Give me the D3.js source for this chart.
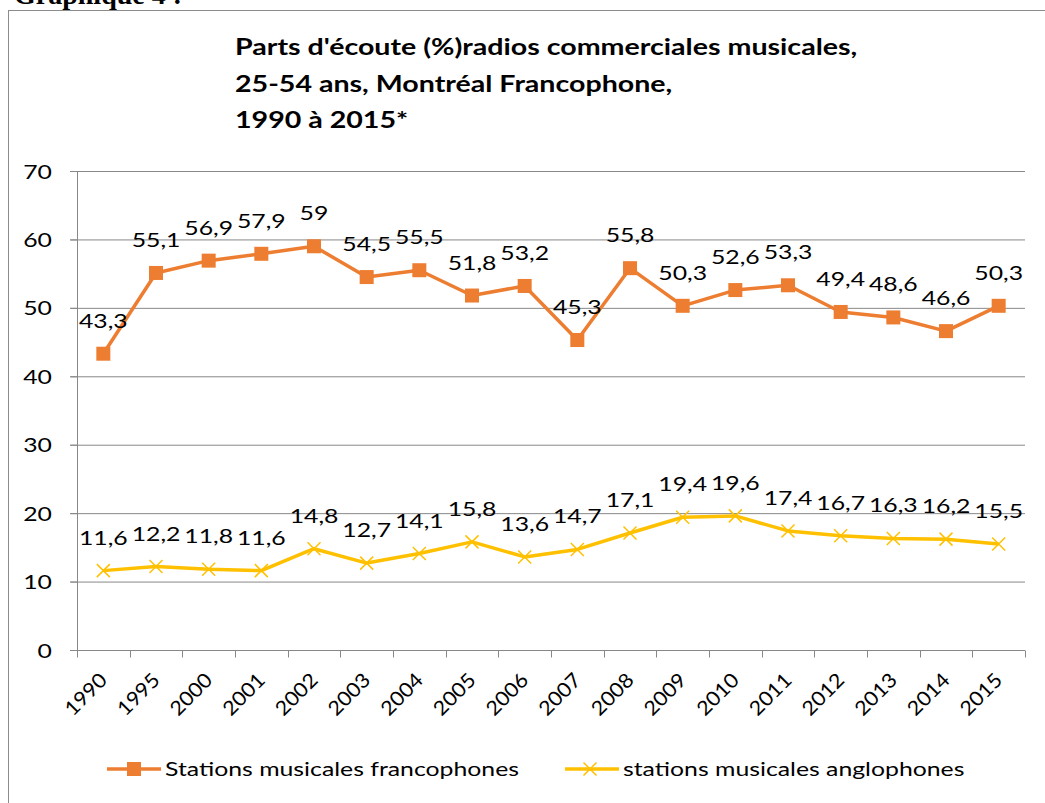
<!DOCTYPE html>
<html><head><meta charset="utf-8">
<script src="https://cdn.jsdelivr.net/npm/d3@7"></script>
<style>body{margin:0;background:#fff}svg{display:block}text{font-family:Lato,"Open Sans",sans-serif}</style>
</head><body>
<svg id="c" width="1045" height="803"></svg>
<script>
const years = ["1990","1995","2000","2001","2002","2003","2004","2005","2006","2007","2008","2009","2010","2011","2012","2013","2014","2015"];
const franco = [43.3,55.1,56.9,57.9,59,54.5,55.5,51.8,53.2,45.3,55.8,50.3,52.6,53.3,49.4,48.6,46.6,50.3];
const anglo = [11.6,12.2,11.8,11.6,14.8,12.7,14.1,15.8,13.6,14.7,17.1,19.4,19.6,17.4,16.7,16.3,16.2,15.5];
const yTicks = [0,10,20,30,40,50,60,70];
const seriesNames = ["Stations musicales francophones","stations musicales anglophones"];
const titleLines = ["Parts d'écoute (%)radios commerciales musicales,","25-54 ans, Montréal Francophone,","1990 à 2015*"];
const heading = "Graphique 4 :";

const svg = d3.select("#c");
const orange = "#ED7D31", yellow = "#FFC000", grid = "#888888";
const SX = 1.24;
const fmt = v => String(v).replace(".", ",");
const place = (x0, y0, s=SX) => `translate(${x0},${y0}) scale(${s},1)`;

// page heading and frame
svg.append("text").attr("x",14).attr("y",4).style("font-family","'Liberation Serif',serif")
  .attr("font-weight","bold").attr("font-size",28).text(heading);
svg.append("rect").attr("x",8.5).attr("y",10.5).attr("width",1050).attr("height",800)
  .attr("fill","#fff").attr("stroke","#8c8c8c").attr("stroke-width",1);

// title
svg.append("g").selectAll("text").data(titleLines).join("text")
  .attr("transform",(d,i)=>place(235, 55+i*36.5, 1.3))
  .attr("font-weight","bold").attr("font-size",22).attr("fill","#000").text(d=>d);

const x = d3.scaleBand().domain(years).range([77,1025]);
const y = d3.scaleLinear().domain([0,70]).range([650,171]);

// gridlines
svg.append("g").selectAll("line").data(yTicks.filter(t=>t>0)).join("line")
  .attr("x1",70).attr("x2",1025).attr("y1",d=>y(d)+0.5).attr("y2",d=>y(d)+0.5).attr("stroke",grid).attr("stroke-width",1);

// y axis
const ya = svg.append("g").attr("transform","translate(77.5,0)")
  .call(d3.axisLeft(y).tickValues(yTicks).tickSize(7).tickPadding(18).tickFormat(d=>d));
ya.select(".domain").attr("stroke",grid).attr("d","M0,"+y(70)+"V"+(y(0)+0.5));
ya.selectAll(".tick line").attr("stroke",grid);
ya.selectAll(".tick text").attr("transform",place(-25.5,0)).attr("x",null)
  .attr("font-size",20).attr("fill","#000").style("font-family","Lato").attr("dy","0.35em");

// x axis
const xa = svg.append("g").attr("transform","translate(0,650.5)");
xa.append("line").attr("x1",70).attr("x2",1025).attr("stroke",grid);
const bounds = years.map(d=>x(d)).concat([x.range()[1]]);
xa.selectAll("line.t").data(bounds).join("line").attr("class","t")
  .attr("x1",d=>Math.round(d)+0.5).attr("x2",d=>Math.round(d)+0.5).attr("y1",0).attr("y2",7).attr("stroke",grid);
xa.selectAll("text").data(years).join("text")
  .attr("transform",d=>`translate(${x(d)+x.bandwidth()/2+5},31) rotate(-45) scale(1.08,1)`)
  .attr("text-anchor","end").attr("font-size",20).attr("fill","#000").text(d=>d);

const cx = d => x(d)+x.bandwidth()/2;
const line = d3.line().x((d,i)=>cx(years[i])).y(d=>y(d));

// anglo series
svg.append("path").datum(anglo).attr("d",line).attr("fill","none").attr("stroke",yellow).attr("stroke-width",3.5).attr("stroke-linejoin","round");
svg.append("g").selectAll("path").data(anglo).join("path")
  .attr("d",(d,i)=>{const a=cx(years[i]),b=y(d),r=6.5;return `M${a-r},${b-r}L${a+r},${b+r}M${a-r},${b+r}L${a+r},${b-r}`;})
  .attr("stroke",yellow).attr("stroke-width",1.5);

// franco series
svg.append("path").datum(franco).attr("d",line).attr("fill","none").attr("stroke",orange).attr("stroke-width",3.5).attr("stroke-linejoin","round");
svg.append("g").selectAll("rect").data(franco).join("rect")
  .attr("x",(d,i)=>cx(years[i])-7).attr("y",d=>y(d)-7).attr("width",14).attr("height",14).attr("fill",orange);

// labels
function labels(data){
  svg.append("g").selectAll("text").data(data).join("text")
    .attr("transform",(d,i)=>place(cx(years[i]), y(d)-26))
    .attr("text-anchor","middle").attr("font-size",20).attr("fill","#000").text(d=>fmt(d));
}
labels(franco); labels(anglo);

// legend
const lg = svg.append("g");
lg.append("line").attr("x1",107).attr("x2",161).attr("y1",769).attr("y2",769).attr("stroke",orange).attr("stroke-width",3.5);
lg.append("rect").attr("x",127).attr("y",762).attr("width",14).attr("height",14).attr("fill",orange);
lg.append("text").attr("transform",place(165,776)).attr("font-size",20).attr("fill","#000").text(seriesNames[0]);
lg.append("line").attr("x1",565).attr("x2",619).attr("y1",769).attr("y2",769).attr("stroke",yellow).attr("stroke-width",3.5);
lg.append("path").attr("d","M583.5,762.5L596.5,775.5M583.5,775.5L596.5,762.5").attr("stroke",yellow).attr("stroke-width",1.5);
lg.append("text").attr("transform",place(623,776)).attr("font-size",20).attr("fill","#000").text(seriesNames[1]);
</script>
</body></html>
